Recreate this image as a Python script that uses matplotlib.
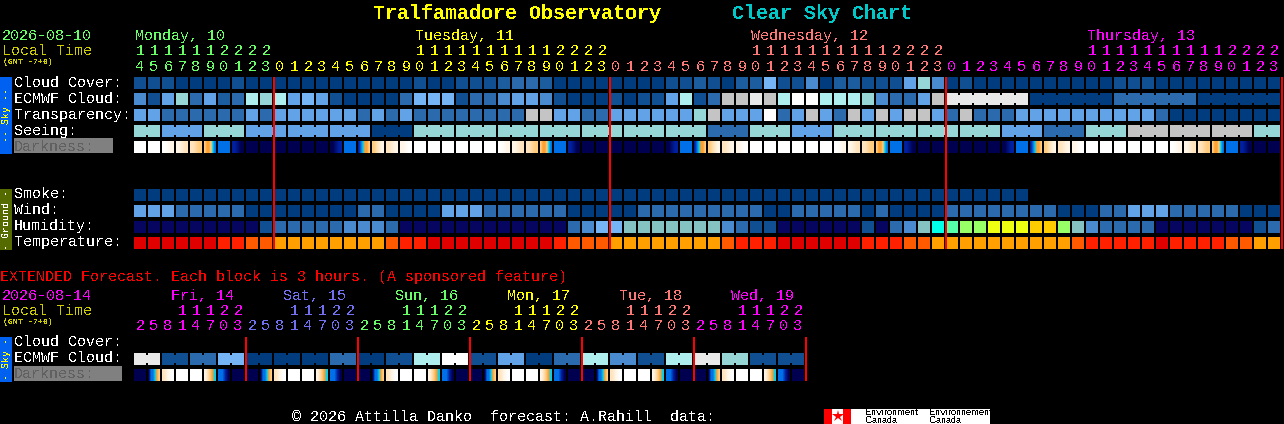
import matplotlib
matplotlib.use("Agg")
import matplotlib.pyplot as plt
from matplotlib.colors import to_rgb
import numpy as np

plt.rcParams['font.family'] = ['Liberation Mono', 'DejaVu Sans Mono']
plt.rcParams['text.antialiased'] = False
plt.rcParams['text.hinting'] = 'native'
plt.rcParams['text.hinting_factor'] = 1

# colour of each block class, one key per block in the rows below
palette = {
    '0': '#003C7E', '1': '#0F4F92', '2': '#1C5DA0', '3': '#2C6AAE',
    '4': '#4A8ACF', '5': '#62A2E6', '6': '#75B5F6',
    'a': '#AEEEEE', 't': '#96D6D6', 'g': '#C4C4C4', 'e': '#E9E9E9', 'w': '#FFFFFF',
    'N': '#060660', 'T': '#85C2C2', 'c': '#00FFE8', 'm': '#55FFAA', 'l': '#99FF66',
    'y': '#EEFF11', 'o': '#FFCC00',
    'r': '#E00000', 'R': '#FF2000', 'O': '#FF5A00', 'A': '#FFA000',
}
dark_palette = {
    'W': '#FFFFFF', 'L': '#FFF6E8', 'C': '#FFE4BE', 'B': '#FFCC80', 'O': '#FFA030',
    'Q': '#00D0F0', 'U': '#0070E8', 'D': '#0020A0', 'n': '#000050',
}

cloud_cover = ("1110000100" "0000000000" "1001112332" "0000000011"
               "2102261140" "221115t401" "0000000000" "111000000000")
ecmwf_cloud = ("415t3523at" "a565100003" "6661334554" "100010115a"
               "13ggegawwa" "aat4335gee" "eeee000000" "333333000000")
transparency = ("5533333353" "5555553535" "33333333gg" "5533555555"
                "tg555w35g5" "3g5g5gg53g" "3335555555" "555300000000")
seeing = ("tt555ttt55" "5555555000" "tttttttttt" "tttttttttt"
          "t333ttt555" "tttttttttt" "tt555333tt" "tggggggggg" "tt")
darkness = """W W WL LC CB BOOBQU U Dn n n n n n n nD U DUQOOB BCL CL LW W
W W W W W WL LC CB BOOBQU U Dn n n n n n n nD U DUQOOB BCL CL LW W
W W W W W WL LC CB BOOBQU U Dn n n n n n n nD U DUQOOB BCL CL LW W
W W W W W WL LC CB BOOBQU U Dn n n""".split()
smoke = "0" * 64
wind = ("5553333300" "0000003300" "0055533333" "3000003333"
        "3333300333" "3303000033" "3333330003" "355533333000")
humidity = ("NNNNNNNNN1" "333334443N" "NNNNNNNNNN" "N3466TTTTT"
            "TT4311NNNN" "NN1N34Tcml" "lyyyoolT43" "333NNNNNNN13")
temperature = ("rrrrrrRROO" "AAAAAAAAOR" "Rrrrrrrrrr" "ROOOAAAAAA"
               "AAORRRrrrr" "rrRRROOAAA" "AAAAAAAORR" "RRRrRRRROOAA")

# extended forecast, one key per 2 block pair
ext_ecmwf = "e136" "0003" "01aw" "1503" "a41a" "et11"
ext_darkness = """n nUUQOB CLW W W LCBOQ UUDn n
n nUUQOB CLW W W LCBOQ UUDn n
n nUUQOB CLW W W LCBOQ UUDn n
n nUUQOB CLW W W LCBOQ UUDn n
n nUUQOB CLW W W LCBOQ UUDn n
n nUUQOB CLW W W LCBOQ UUDn n""".split()

# hour labels
hours = [14, 15, 16, 17, 18, 19, 20, 21, 22, 23] + list(range(24)) * 3
day_names = ["Monday, 10", "Tuesday, 11", "Wednesday, 12", "Thursday, 13"]
day_colors = ['#66FF66', '#FFFF00', '#FF7878', '#FF00FF']
day_start = [0, 10, 34, 58]
day_label_cell = [0, 20, 44, 68]

ext_hours = [2, 5, 8, 11, 14, 17, 20, 23] * 6
ext_names = ["Fri, 14", "Sat, 15", "Sun, 16", "Mon, 17", "Tue, 18", "Wed, 19"]
ext_colors = ['#FF00FF', '#7070F0', '#66FF66', '#FFFF00', '#FF7878', '#FF00FF']

X0, PITCH, CELL = 134, 14, 12


def cell_x(i):
    return X0 + PITCH * i


def draw_row(ax, keys, y, block=None):
    for i, k in enumerate(keys):
        ax.bar(cell_x(i), CELL, width=CELL, bottom=y, align='edge',
               color=palette[k], linewidth=0, antialiased=False)
        # blocks from one forecast value are joined by a small neck
        if block is not None and i + 1 < len(keys) and block(i) == block(i + 1):
            ax.bar(cell_x(i) + CELL, CELL - 4, width=PITCH - CELL, bottom=y + 2, align='edge',
                   color=palette[k], linewidth=0, antialiased=False)


def draw_dark(ax, cells, y):
    for i, stops in enumerate(cells):
        rgb = np.array([[to_rgb(dark_palette[s]) for s in stops]])
        if len(stops) == 1:
            rgb = np.repeat(rgb, 2, axis=1)
        ax.imshow(rgb, extent=(cell_x(i), cell_x(i) + CELL, y + CELL, y),
                  aspect='auto', interpolation='bilinear')


fig = plt.figure(figsize=(12.84, 4.24), dpi=100, facecolor='black')
ax = fig.add_axes([0, 0, 1, 1])
ax.set_facecolor('black')
ax.axis('off')

FS = 10.8


def label(x, y, s, color='white', size=FS, **kw):
    ax.text(x, y, s, color=color, fontsize=size, va='baseline', **kw)


# title
label(373, 19, "Tralfamadore Observatory", '#FFFF00', 14.4, weight='bold')
label(732, 19, "Clear Sky Chart", '#00C8C8', 14.4, weight='bold')

# top left header
label(2, 40, "2026-08-10", '#66FF66')
label(2, 55, "Local Time", '#CCCC00')
label(3, 64.5, "(GMT -7+0)", '#CCCC00', 5.8, weight='bold')

for name, col, cell in zip(day_names, day_colors, day_label_cell):
    label(cell_x(cell) + 1, 40, name, col)

for i, h in enumerate(hours):
    col = day_colors[np.searchsorted(day_start, i, side='right') - 1]
    if h >= 10:
        label(cell_x(i) + 6, 55, str(h // 10), col, ha='center')
    label(cell_x(i) + 6, 71, str(h % 10), col, ha='center')

# side bars
ax.bar(0, 77, width=12, bottom=77, align='edge', color='#0060F0', linewidth=0, antialiased=False)
ax.text(6, 115.5, "-- Sky --", color='#FFFF00', fontsize=7.2, rotation=90, ha='center', va='center')
ax.bar(0, 61, width=12, bottom=189, align='edge', color='#556B00', linewidth=0, antialiased=False)
ax.text(6, 219.5, "- Ground -", color='white', fontsize=7.2, rotation=90, ha='center', va='center')
ax.bar(0, 45, width=12, bottom=337, align='edge', color='#0060F0', linewidth=0, antialiased=False)
ax.text(6, 359.5, "- Sky -", color='#FFFF00', fontsize=7.2, rotation=90, ha='center', va='center')

# row labels
label(14, 87, "Cloud Cover:")
label(14, 103, "ECMWF Cloud:")
label(14, 119, "Transparency:")
label(14, 135, "Seeing:")
ax.bar(14, 15, width=99, bottom=138, align='edge', color='#808080', linewidth=0, antialiased=False)
label(14, 151, "Darkness:", '#606060')
label(14, 198, "Smoke:")
label(14, 214, "Wind:")
label(14, 230, "Humidity:")
label(14, 246, "Temperature:")

# main rows
draw_row(ax, cloud_cover, 77)
draw_row(ax, ecmwf_cloud, 93, block=lambda i: (i - 58) // 6 if i >= 58 else -i - 1)
draw_row(ax, transparency, 109)
draw_row(ax, seeing, 125, block=lambda i: (i + 1) // 3)
draw_dark(ax, darkness, 141)
draw_row(ax, smoke, 189)
draw_row(ax, wind, 205)
draw_row(ax, humidity, 221)
draw_row(ax, temperature, 237)
ax.vlines([274, 610, 946, 1282], 77, 249, color='#FF0000', linewidth=1.44, antialiased=False)

# extended forecast
label(0, 281, "EXTENDED Forecast. Each block is 3 hours. (A sponsored feature)", '#FF0000')
label(2, 300, "2026-08-14", '#FF00FF')
label(2, 315, "Local Time", '#CCCC00')
label(3, 324.5, "(GMT -7+0)", '#CCCC00', 5.8, weight='bold')

for d, (name, col) in enumerate(zip(ext_names, ext_colors)):
    label(171 + 112 * d, 300, name, col)
for i, h in enumerate(ext_hours):
    col = ext_colors[i // 8]
    if h >= 10:
        label(cell_x(i) + 6, 315, str(h // 10), col, ha='center')
    label(cell_x(i) + 6, 330, str(h % 10), col, ha='center')

label(14, 346, "Cloud Cover:")
label(14, 362, "ECMWF Cloud:")
ax.bar(14, 15, width=108, bottom=366, align='edge', color='#808080', linewidth=0, antialiased=False)
label(14, 378, "Darkness:", '#606060')

draw_row(ax, [k for k in ext_ecmwf for _ in range(2)], 353, block=lambda i: i // 2)
draw_dark(ax, ext_darkness, 369)
ax.vlines([246, 358, 470, 582, 694, 806], 337, 381, color='#FF0000', linewidth=1.44, antialiased=False)

# footer
label(292, 421, "\u00a9 2026 Attilla Danko  forecast: A.Rahill  data:")
ax.bar(824, 15, width=166, bottom=409, align='edge', color='white', linewidth=0, antialiased=False)
ax.bar(824, 15, width=8, bottom=409, align='edge', color='#FF0000', linewidth=0, antialiased=False)
ax.bar(843, 15, width=8, bottom=409, align='edge', color='#FF0000', linewidth=0, antialiased=False)
ax.plot([837.5], [416], marker='*', markersize=9, color='#FF0000', markeredgewidth=0, antialiased=False)
for x, word in [(865, "Environment"), (929, "Environnement")]:
    ax.text(x, 415, word, color='black', fontsize=6.2, family='Liberation Sans', va='baseline')
    ax.text(x, 423, "Canada", color='black', fontsize=6.2, family='Liberation Sans', va='baseline')

ax.set_xlim(0, 1284)
ax.set_ylim(424, 0)
fig.savefig('out.png', dpi=100, facecolor='black')
